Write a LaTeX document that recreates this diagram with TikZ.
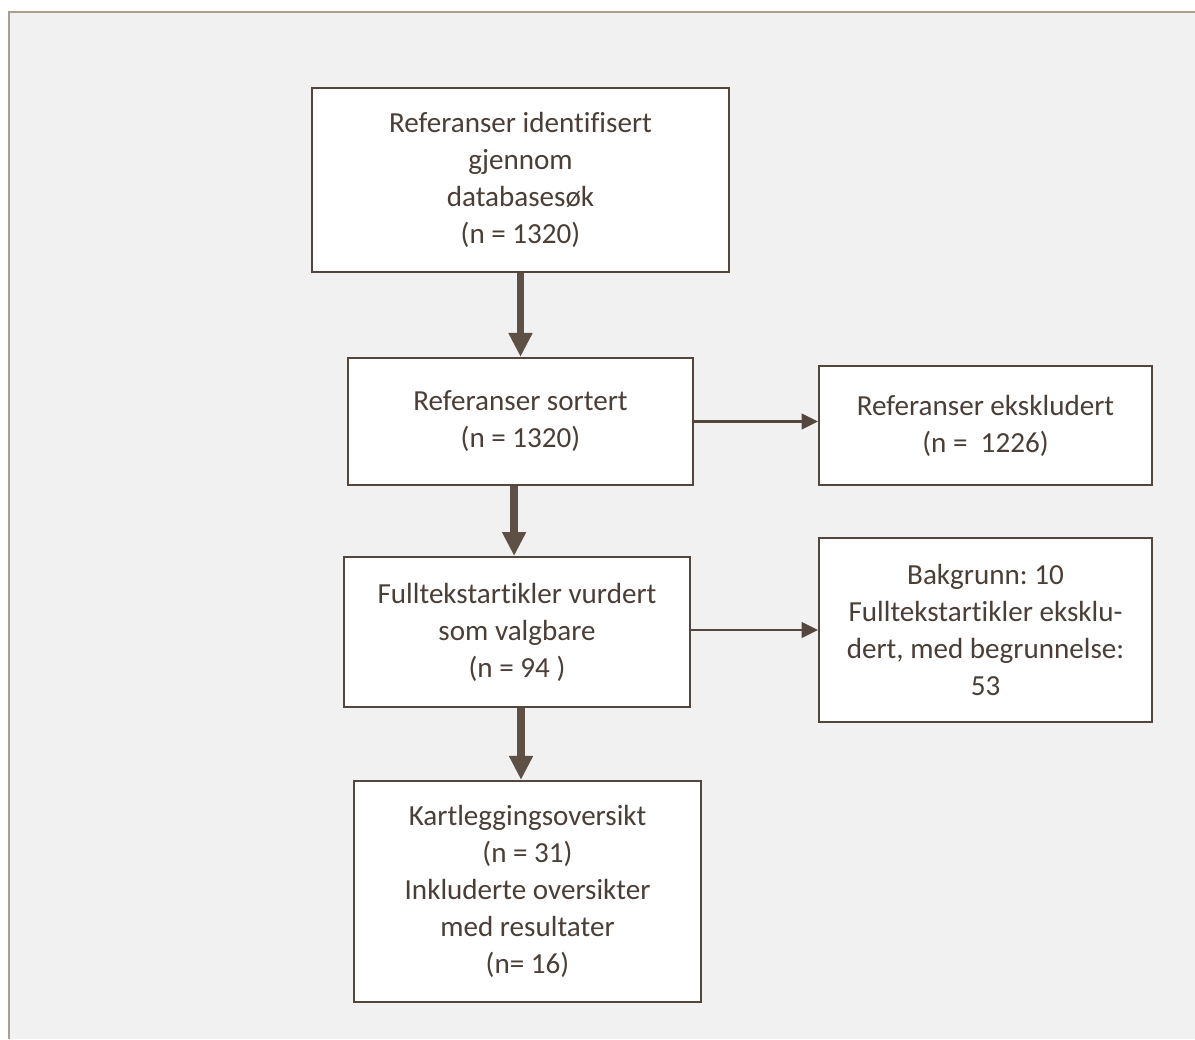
\documentclass[tikz,border=0pt]{standalone}
\usepackage{fontspec}
\setmainfont{Carlito}[Ligatures=NoCommon]
\frenchspacing
\usepackage{tikz}
\usetikzlibrary{
  arrows.meta,
  positioning,
  calc
}
\definecolor{framebrown}{HTML}{AD9D91}
\definecolor{panelgray}{HTML}{F1F1F1}
\definecolor{boxbrown}{HTML}{54463D}
\definecolor{textbrown}{HTML}{4B3E36}
\definecolor{shaftbrown}{HTML}{5F5046}
\tikzset{
  flowbox/.style   = {draw=boxbrown, line width=1.4pt, fill=white,
                      align=center, text=textbrown, inner sep=0pt,
                      font=\fontsize{20.7}{26.3}\selectfont},
  bigarrow/.style  = {-{Triangle[length=17pt, width=16pt]},
                      line width=5.5pt, draw=shaftbrown},
  sidearrow/.style = {-{Triangle[length=11.5pt, width=11pt]},
                      line width=1.7pt, draw=boxbrown},
}

\begin{document}
\begin{tikzpicture}[x=0.025cm, y=-0.025cm]

% ========== Panel ==========
\useasboundingbox (0,0) rectangle (1195,1039);
\fill[white] (0,0) rectangle (1195,1039);
\fill[panelgray] (9,12) rectangle (1195,1039);
\draw[framebrown, line width=1.4pt] (9,1039) -- (9,12) -- (1195,12);

% ========== Main column ==========
\node[flowbox, minimum width=10.43cm, minimum height=4.6cm] (ident) at (520.5,180)
  {Referanser identifisert\\gjennom\\databasesøk\\(n = 1320)};
\node[flowbox, minimum width=8.63cm, minimum height=3.18cm] (sorted) at (520.5,421.5)
  {Referanser sortert\\(n = 1320)};
\node[flowbox, minimum width=8.65cm, minimum height=3.75cm] (fulltext) at (517,632)
  {Fulltekstartikler vurdert\\som valgbare\\(n = 94 )};
\node[flowbox, minimum width=8.68cm, minimum height=5.53cm] (included) at (527.5,891.5)
  {Kartleggingsoversikt\\(n = 31)\\Inkluderte oversikter\\med resultater\\(n= 16)};

% ========== Exclusions ==========
\node[flowbox, minimum width=8.33cm, minimum height=2.98cm] (excluded) at (985.5,425.5)
  {Referanser ekskludert\\(n = \ 1226)};
\node[flowbox, minimum width=8.33cm, minimum height=4.6cm] (ftexcluded) at (985.5,630)
  {Bakgrunn: 10\\Fulltekstartikler eksklu-\\dert, med begrunnelse:\\53};

% ========== Arrows ==========
\draw[bigarrow] (ident.south) -- (sorted.north);
\draw[bigarrow] ([xshift=-0.16cm]sorted.south) -- ([xshift=-0.16cm]sorted.south |- fulltext.north);
\draw[bigarrow] ([xshift=0.1cm]fulltext.south) -- ([xshift=0.1cm]fulltext.south |- included.north);

\draw[sidearrow] (sorted.east) -- (sorted.east -| excluded.west);
\draw[sidearrow] (ftexcluded.west -| fulltext.east) -- (ftexcluded.west);

\end{tikzpicture}
\end{document}
